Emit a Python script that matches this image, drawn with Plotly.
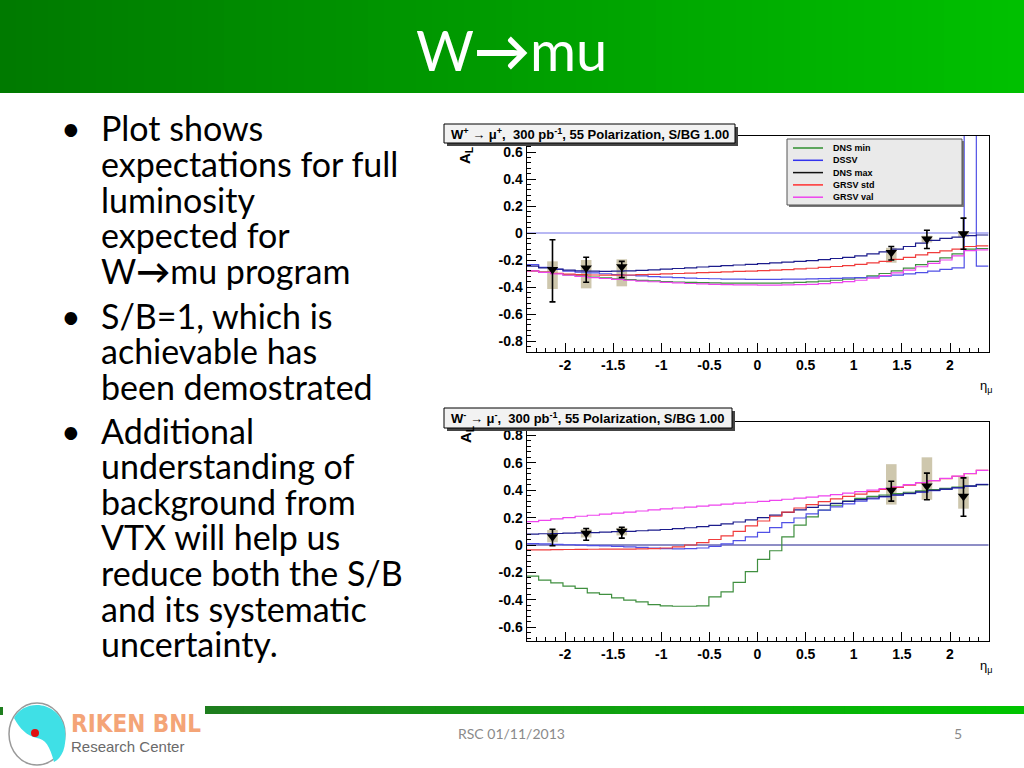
import plotly.graph_objects as go

# ---------------- data ----------------
N_BINS = 38
ETA_MIN, ETA_MAX = -2.4, 2.4
eta_edges = [ETA_MIN + (ETA_MAX - ETA_MIN) * i / N_BINS for i in range(N_BINS + 1)]

# W+ -> mu+ theory curves (A_L per eta bin)
wp_dns_min = [-0.28, -0.29, -0.30, -0.31, -0.318, -0.326, -0.333, -0.34, -0.346, -0.351,
              -0.355, -0.36, -0.363, -0.366, -0.368, -0.37, -0.371, -0.372, -0.372, -0.372,
              -0.371, -0.369, -0.366, -0.362, -0.357, -0.35, -0.342, -0.332, -0.318, -0.30,
              -0.28, -0.26, -0.235, -0.21, -0.185, -0.155, -0.12, -0.115]
wp_dssv = [-0.235, -0.255, -0.27, -0.283, -0.29, -0.296, -0.302, -0.308, -0.313, -0.318,
           -0.323, -0.327, -0.331, -0.334, -0.337, -0.339, -0.341, -0.342, -0.343, -0.343,
           -0.343, -0.342, -0.341, -0.34, -0.338, -0.336, -0.333, -0.33, -0.326, -0.32,
           -0.312, -0.303, -0.293, -0.282, -0.27, -0.258, 1.2, -0.245]
wp_dns_max = [-0.245, -0.258, -0.268, -0.275, -0.28, -0.283, -0.284, -0.283, -0.28, -0.277,
              -0.273, -0.268, -0.263, -0.258, -0.252, -0.247, -0.242, -0.237, -0.232, -0.227,
              -0.222, -0.216, -0.21, -0.204, -0.197, -0.189, -0.18, -0.17, -0.155, -0.14,
              -0.12, -0.1, -0.075, -0.055, -0.04, -0.03, -0.02, -0.015]
wp_grsv_std = [-0.28, -0.29, -0.298, -0.304, -0.308, -0.311, -0.312, -0.312, -0.311, -0.309,
               -0.306, -0.303, -0.30, -0.297, -0.294, -0.291, -0.288, -0.285, -0.282, -0.279,
               -0.275, -0.271, -0.266, -0.261, -0.255, -0.248, -0.241, -0.233, -0.222, -0.21,
               -0.195, -0.18, -0.162, -0.146, -0.132, -0.12, -0.10, -0.095]
wp_grsv_val = [-0.28, -0.292, -0.303, -0.313, -0.322, -0.33, -0.337, -0.344, -0.35, -0.356,
               -0.361, -0.366, -0.37, -0.374, -0.377, -0.38, -0.382, -0.384, -0.385, -0.386,
               -0.386, -0.385, -0.383, -0.38, -0.375, -0.368, -0.36, -0.35, -0.335, -0.315,
               -0.295, -0.275, -0.25, -0.225, -0.20, -0.17, -0.13, -0.125]

# W- -> mu- theory curves
wm_dns_min = [-0.227, -0.256, -0.276, -0.30, -0.317, -0.349, -0.361, -0.386, -0.403, -0.415,
              -0.435, -0.444, -0.447, -0.447, -0.444, -0.378, -0.342, -0.273, -0.195, -0.105,
              -0.042, 0.06, 0.145, 0.205, 0.255, 0.29, 0.32, 0.34, 0.355, 0.365,
              0.375, 0.385, 0.395, 0.405, 0.413, 0.422, 0.432, 0.44]
wm_dssv = [0.01, 0.008, 0.005, 0.002, -0.001, -0.004, -0.007, -0.01, -0.014, -0.018,
           -0.022, -0.026, -0.028, -0.027, -0.022, -0.01, 0.008, 0.032, 0.06, 0.092,
           0.127, 0.163, 0.197, 0.227, 0.254, 0.278, 0.30, 0.32, 0.337, 0.351,
           0.363, 0.374, 0.385, 0.396, 0.406, 0.417, 0.43, 0.443]
wm_dns_max = [0.08, 0.082, 0.084, 0.086, 0.088, 0.091, 0.094, 0.097, 0.10, 0.104,
              0.108, 0.113, 0.119, 0.126, 0.134, 0.143, 0.154, 0.168, 0.183, 0.20,
              0.218, 0.238, 0.257, 0.274, 0.29, 0.304, 0.318, 0.331, 0.343, 0.355,
              0.366, 0.377, 0.388, 0.398, 0.408, 0.418, 0.43, 0.44]
wm_grsv_std = [-0.035, -0.035, -0.034, -0.033, -0.032, -0.031, -0.03, -0.03, -0.03, -0.029,
               -0.027, -0.022, -0.013, 0.0, 0.018, 0.04, 0.067, 0.10, 0.14, 0.175,
               0.21, 0.24, 0.27, 0.295, 0.317, 0.337, 0.355, 0.372, 0.389, 0.405,
               0.421, 0.437, 0.453, 0.469, 0.485, 0.502, 0.521, 0.544]
wm_grsv_val = [0.17, 0.18, 0.19, 0.20, 0.21, 0.217, 0.225, 0.232, 0.24, 0.248,
               0.256, 0.263, 0.27, 0.277, 0.284, 0.291, 0.298, 0.305, 0.312, 0.319,
               0.326, 0.334, 0.342, 0.35, 0.359, 0.368, 0.378, 0.389, 0.40, 0.412,
               0.425, 0.44, 0.455, 0.47, 0.486, 0.503, 0.522, 0.545]

# projected data points
pt_eta = [-2.13, -1.78, -1.41, 1.39, 1.76, 2.14]
wp_al = [-0.27, -0.26, -0.25, -0.145, -0.045, -0.005]
wp_stat_hi = [-0.05, -0.18, -0.21, -0.10, 0.02, 0.11]
wp_stat_lo = [-0.51, -0.365, -0.33, -0.20, -0.115, -0.12]
wp_sys_hi = [-0.21, -0.20, -0.195, -0.11, -0.02, 0.015]
wp_sys_lo = [-0.415, -0.41, -0.395, -0.22, -0.07, -0.03]

wm_al = [0.06, 0.085, 0.10, 0.40, 0.43, 0.355]
wm_stat_hi = [0.115, 0.12, 0.13, 0.465, 0.525, 0.49]
wm_stat_lo = [-0.005, 0.035, 0.05, 0.32, 0.33, 0.21]
wm_sys_hi = [0.11, 0.115, 0.125, 0.59, 0.64, 0.50]
wm_sys_lo = [0.02, 0.055, 0.07, 0.295, 0.33, 0.265]
SYS_WIDTH = 0.11

model_names = ["DNS min", "DSSV", "DNS max", "GRSV std", "GRSV val"]
curve_colors = ["#3f8f3f", "#5050e6", "#1c1c8c", "#f03c3c", "#ee44ee"]
legend_colors = ["#2f8f2f", "#3333ee", "#111111", "#ff3030", "#ee44ee"]

x_tick_vals = [-2, -1.5, -1, -0.5, 0, 0.5, 1, 1.5, 2]
x_tick_text = ["-2", "-1.5", "-1", "-0.5", "0", "0.5", "1", "1.5", "2"]
y1_tick_vals = [0.6, 0.4, 0.2, 0, -0.2, -0.4, -0.6, -0.8]
y1_tick_text = ["0.6", "0.4", "0.2", "0", "-0.2", "-0.4", "-0.6", "-0.8"]
y2_tick_vals = [0.8, 0.6, 0.4, 0.2, 0, -0.2, -0.4, -0.6]
y2_tick_text = ["0.8", "0.6", "0.4", "0.2", "0", "-0.2", "-0.4", "-0.6"]
Y1_RANGE = [-0.88, 0.72]
Y2_RANGE = [-0.70, 0.90]

title_text = "W<b>\u2192</b>mu"
bullets = [
    ["Plot shows", "expectations for full", "luminosity", "expected for", "W<b>\u2192</b>mu program"],
    ["S/B=1, which is", "achievable has", "been demostrated"],
    ["Additional", "understanding of", "background from", "VTX will help us",
     "reduce both the S/B", "and its systematic", "uncertainty."],
]
footer_text = "RSC 01/11/2013"
page_number = "5"
plot1_title = "W<sup>+</sup> \u2192 \u03bc<sup>+</sup>,  300 pb<sup>-1</sup>, 55 Polarization, S/BG 1.00"
plot2_title = "W<sup>-</sup> \u2192 \u03bc<sup>-</sup>,  300 pb<sup>-1</sup>, 55 Polarization, S/BG 1.00"

# ---------------- geometry helpers ----------------
W, H = 1024, 768


def px(x):
    return x / W


def py(y):
    return 1 - y / H


X_L, X_R = 526.5, 988.5
P1_T, P1_B = 135.8, 351.8
P2_T, P2_B = 421.7, 640.9

fig = go.Figure()


def add_curves(vals_list, xa, ya, ylow):
    for vals, col in zip(vals_list, curve_colors):
        xs = list(eta_edges)
        ys = list(vals) + [vals[-1]]
        if col == curve_colors[-1]:
            xs = [eta_edges[0]] + xs
            ys = [ylow] + ys
        fig.add_trace(go.Scatter(x=xs, y=ys, mode="lines", line=dict(color=col, width=1.2, shape="hv"),
                                 xaxis=xa, yaxis=ya, showlegend=False, hoverinfo="skip"))


def add_sys(syshi, syslo, xa, ya):
    fig.add_trace(go.Bar(x=pt_eta, y=[h - l for h, l in zip(syshi, syslo)], base=syslo,
                         width=SYS_WIDTH, marker=dict(color="#c9c1a5", line=dict(width=0)),
                         opacity=0.9, xaxis=xa, yaxis=ya, showlegend=False, hoverinfo="skip"))


def add_points(al, shi, slo, xa, ya):
    fig.add_trace(go.Scatter(x=pt_eta, y=al, mode="markers",
                             marker=dict(symbol="triangle-down", size=10, color="black"),
                             error_y=dict(type="data", symmetric=False,
                                          array=[h - v for h, v in zip(shi, al)],
                                          arrayminus=[v - l for v, l in zip(al, slo)],
                                          color="black", thickness=1.6, width=3),
                             xaxis=xa, yaxis=ya, showlegend=False, hoverinfo="skip"))


add_sys(wp_sys_hi, wp_sys_lo, "x", "y")
add_curves([wp_dns_min, wp_dssv, wp_dns_max, wp_grsv_std, wp_grsv_val], "x", "y", Y1_RANGE[0])
add_points(wp_al, wp_stat_hi, wp_stat_lo, "x", "y")
add_sys(wm_sys_hi, wm_sys_lo, "x2", "y2")
add_curves([wm_dns_min, wm_dssv, wm_dns_max, wm_grsv_std, wm_grsv_val], "x2", "y2", Y2_RANGE[0])
add_points(wm_al, wm_stat_hi, wm_stat_lo, "x2", "y2")

tickfont = dict(family="Liberation Sans", size=14, color="black", weight="bold")
xax = dict(range=[ETA_MIN, ETA_MAX], showline=True, linecolor="black", linewidth=1, mirror=True,
           ticks="inside", ticklen=9, tickwidth=1, tickcolor="black", tickmode="array",
           tickvals=x_tick_vals, ticktext=x_tick_text, tickfont=tickfont, showgrid=False,
           zeroline=False, domain=[px(X_L), px(X_R)],
           minor=dict(ticks="inside", ticklen=4, tickmode="linear", tick0=0, dtick=0.1,
                      tickcolor="black", tickwidth=1, showgrid=False))


def yax(rng, tv, tt, top, bot, anchor):
    return dict(range=rng, showline=True, linecolor="black", linewidth=1, mirror=True,
                ticks="inside", ticklen=9, tickwidth=1, tickcolor="black", tickmode="array",
                tickvals=tv, ticktext=tt, tickfont=tickfont, showgrid=False, zeroline=False,
                domain=[py(bot), py(top)], anchor=anchor,
                minor=dict(ticks="inside", ticklen=4, tickmode="linear", tick0=0, dtick=0.04,
                           tickcolor="black", tickwidth=1, showgrid=False))


shapes = []
annotations = []

# header gradient
N_STRIPS = 64
c0, c1 = (0, 122, 0), (0, 192, 0)
for i in range(N_STRIPS):
    t = i / (N_STRIPS - 1)
    col = "rgb(%d,%d,%d)" % tuple(round(a + (b - a) * t) for a, b in zip(c0, c1))
    shapes.append(dict(type="rect", xref="paper", yref="paper", x0=px(i * W / N_STRIPS),
                       x1=px((i + 1) * W / N_STRIPS + 1), y0=py(93), y1=py(0),
                       fillcolor=col, line=dict(width=0), layer="below"))
# footer bar gradient
f0, f1 = (30, 126, 30), (0, 196, 0)
FB_L = 205
for i in range(N_STRIPS):
    t = i / (N_STRIPS - 1)
    col = "rgb(%d,%d,%d)" % tuple(round(a + (b - a) * t) for a, b in zip(f0, f1))
    xa0 = FB_L + i * (W - FB_L) / N_STRIPS
    shapes.append(dict(type="rect", xref="paper", yref="paper", x0=px(xa0),
                       x1=px(xa0 + (W - FB_L) / N_STRIPS + 1), y0=py(714), y1=py(706),
                       fillcolor=col, line=dict(width=0), layer="below"))
shapes.append(dict(type="rect", xref="paper", yref="paper", x0=0, x1=px(3), y0=py(715), y1=py(707),
                   fillcolor="#1e7e1e", line=dict(width=0)))

# zero lines
shapes.append(dict(type="line", xref="x domain", yref="y", x0=0, x1=1, y0=0, y1=0,
                   line=dict(color="#7070e8", width=1), layer="below"))
shapes.append(dict(type="line", xref="x2 domain", yref="y2", x0=0, x1=1, y0=0, y1=0,
                   line=dict(color="#1c1c8c", width=1), layer="below"))

# title boxes (pave text) with shadow
for (bx0, by0, bx1, by1, txt) in [(444, 124, 735, 143, plot1_title), (444, 408, 732, 428, plot2_title)]:
    shapes.append(dict(type="rect", xref="paper", yref="paper", x0=px(bx0 + 3), x1=px(bx1 + 3),
                       y0=py(by1 + 3), y1=py(by0 + 3), fillcolor="#444444", line=dict(width=0)))
    shapes.append(dict(type="rect", xref="paper", yref="paper", x0=px(bx0), x1=px(bx1),
                       y0=py(by1), y1=py(by0), fillcolor="#f2f2f2", line=dict(color="black", width=1)))
    annotations.append(dict(xref="paper", yref="paper", x=px((bx0 + bx1) / 2), y=py((by0 + by1) / 2),
                            text=txt, showarrow=False, xanchor="center", yanchor="middle",
                            font=dict(family="Liberation Sans", size=13, color="black", weight="bold")))

# legend box
LG_X0, LG_Y0, LG_X1, LG_Y1 = 787, 139, 962, 205
shapes.append(dict(type="rect", xref="paper", yref="paper", x0=px(LG_X0 + 2), x1=px(LG_X1 + 2),
                   y0=py(LG_Y1 + 2), y1=py(LG_Y0 + 2), fillcolor="#777777", line=dict(width=0)))
shapes.append(dict(type="rect", xref="paper", yref="paper", x0=px(LG_X0), x1=px(LG_X1),
                   y0=py(LG_Y1), y1=py(LG_Y0), fillcolor="#eaeaea", line=dict(color="#555555", width=1)))
for k, (name, col) in enumerate(zip(model_names, legend_colors)):
    yy = 148 + k * 12.3
    shapes.append(dict(type="line", xref="paper", yref="paper", x0=px(793), x1=px(823), y0=py(yy), y1=py(yy),
                       line=dict(color=col, width=1.5)))
    annotations.append(dict(xref="paper", yref="paper", x=px(831), y=py(yy), text=name, showarrow=False,
                            xanchor="left", yanchor="middle",
                            font=dict(family="Liberation Sans", size=9, color="black", weight="bold")))

# axis titles
for yy in [155, 434]:
    annotations.append(dict(xref="paper", yref="paper", x=px(466), y=py(yy), text="A<sub>L</sub>",
                            textangle=-90, showarrow=False, xanchor="center", yanchor="middle",
                            font=dict(family="Liberation Sans", size=15, color="black", weight="bold")))
for yy in [386, 666]:
    annotations.append(dict(xref="paper", yref="paper", x=px(986), y=py(yy), text="\u03b7<sub>\u03bc</sub>",
                            showarrow=False, xanchor="center", yanchor="middle",
                            font=dict(family="Liberation Sans", size=13, color="black")))

# slide title
annotations.append(dict(xref="paper", yref="paper", x=px(511), y=py(50), text=title_text, showarrow=False,
                        xanchor="center", yanchor="middle",
                        font=dict(family="Lato", size=56, color="white")))

# bullets
BODY_FONT = dict(family="Lato", size=34, color="black")
bullet_first_y = [128, 315, 430]
LINE_PITCH = 35.6
for first_y, lines in zip(bullet_first_y, bullets):
    annotations.append(dict(xref="paper", yref="paper", x=px(59), y=py(first_y), text="\u2022",
                            showarrow=False, xanchor="left", yanchor="middle", font=BODY_FONT))
    for j, ln in enumerate(lines):
        annotations.append(dict(xref="paper", yref="paper", x=px(99), y=py(first_y + j * LINE_PITCH),
                                text=ln, showarrow=False, xanchor="left", yanchor="middle", font=BODY_FONT))

# footer
annotations.append(dict(xref="paper", yref="paper", x=px(511), y=py(733), text=footer_text, showarrow=False,
                        xanchor="center", yanchor="middle", font=dict(family="Lato", size=14, color="#8a8a8a")))
annotations.append(dict(xref="paper", yref="paper", x=px(958), y=py(733), text=page_number, showarrow=False,
                        xanchor="center", yanchor="middle", font=dict(family="Lato", size=14, color="#8a8a8a")))

# logo
shapes.append(dict(type="circle", xref="paper", yref="paper", x0=px(9), x1=px(65), y0=py(765), y1=py(703),
                   line=dict(color="#9a9a9a", width=1.5), fillcolor="white"))


def pth(pts):
    s = ""
    for cmd, coords in pts:
        s += cmd + " " + " ".join("%.5f,%.5f" % (px(a), py(b)) for a, b in coords) + " "
    return s + "Z"


cyan_path = pth([("M", [(14, 718)]),
                 ("C", [(24, 698), (60, 700), (65, 730)]),
                 ("C", [(67, 747), (62, 758), (54, 762)]),
                 ("C", [(50, 746), (45, 739), (37, 738)]),
                 ("C", [(27, 736), (20, 729), (14, 718)])])
shapes.append(dict(type="path", xref="paper", yref="paper", path=cyan_path, fillcolor="#3fe0e6",
                   line=dict(width=0)))
shapes.append(dict(type="circle", xref="paper", yref="paper", x0=px(31), x1=px(39), y0=py(737), y1=py(729),
                   fillcolor="#e01010", line=dict(width=0)))
annotations.append(dict(xref="paper", yref="paper", x=px(69), y=py(724), text="RIKEN BNL", showarrow=False,
                        xanchor="left", yanchor="middle",
                        font=dict(family="DejaVu Sans Condensed", size=24, color="#f4a477", weight="bold")))
annotations.append(dict(xref="paper", yref="paper", x=px(69), y=py(746), text="Research Center", showarrow=False,
                        xanchor="left", yanchor="middle",
                        font=dict(family="Liberation Sans", size=15, color="#6a6a6a")))

xax2 = dict(xax)
xax2["anchor"] = "y2"
xax1 = dict(xax)
xax1["anchor"] = "y"

fig.update_layout(
    width=W, height=H, margin=dict(l=0, r=0, t=0, b=0),
    paper_bgcolor="white", plot_bgcolor="white",
    barmode="overlay", showlegend=False,
    xaxis=xax1, yaxis=yax(Y1_RANGE, y1_tick_vals, y1_tick_text, P1_T, P1_B, "x"),
    xaxis2=xax2, yaxis2=yax(Y2_RANGE, y2_tick_vals, y2_tick_text, P2_T, P2_B, "x2"),
    shapes=shapes, annotations=annotations,
)

fig.write_html("out.html", config={"displayModeBar": False},
               post_script="document.body.style.margin='0';document.body.style.overflow='hidden';")
